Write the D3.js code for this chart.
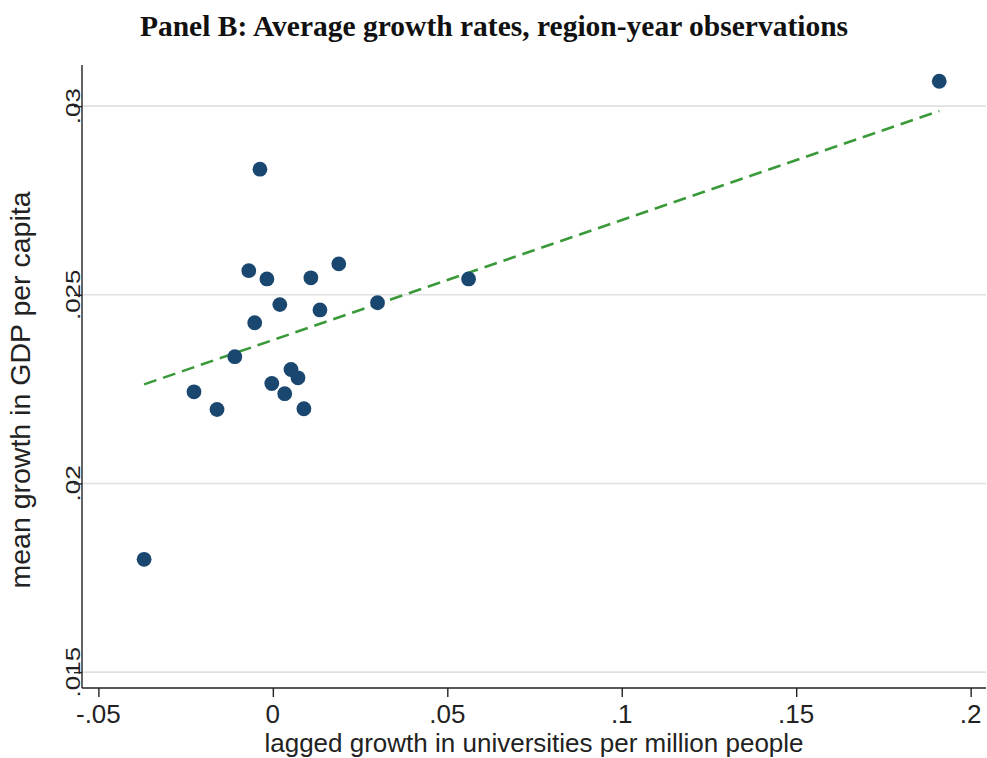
<!DOCTYPE html>
<html>
<head>
<meta charset="utf-8">
<script src="https://cdn.jsdelivr.net/npm/d3@7/dist/d3.min.js"></script>
<style>
  html, body { margin: 0; padding: 0; background: #fff; }
  svg { display: block; }
</style>
</head>
<body>
<svg id="chart" width="987" height="758"></svg>
<script>
// Binned region-year observations
const universityGrowth = [0.191, -0.0369, -0.0037, -0.0069, -0.0017, 0.0189, 0.0109, 0.0020, 0.0135, -0.0052,
                          0.0300, 0.0561, -0.0109, -0.0226, -0.0160, -0.0003, 0.0034, 0.0052, 0.0072, 0.0089];
const gdpGrowth = [0.03066, 0.01799, 0.02833, 0.02564, 0.02542, 0.02582, 0.02545, 0.02474, 0.02460, 0.02426,
                   0.02479, 0.02542, 0.02336, 0.02243, 0.02196, 0.02265, 0.02238, 0.02302, 0.02280, 0.02198];
// Linear fit line
const fitIntercept = 0.0238;
const fitSlope = 0.0318;
const fitRange = [-0.0369, 0.191];

const xTicks = [-0.05, 0, 0.05, 0.1, 0.15, 0.2];
const xTickLabels = ["-.05", "0", ".05", ".1", ".15", ".2"];
const yTicks = [0.015, 0.02, 0.025, 0.03];
const yTickLabels = [".015", ".02", ".025", ".03"];

const svg = d3.select("#chart");
const plotLeft = 82, plotRight = 986, plotTop = 65, plotBottom = 688;
const sans = "'Liberation Sans', Arial, sans-serif";

const x = d3.scaleLinear().domain([-0.0547, 0.2044]).range([plotLeft, plotRight]);
const y = d3.scaleLinear().domain([0.01458, 0.03109]).range([plotBottom, plotTop]);

// Title
svg.append("text")
  .attr("x", 494).attr("y", 36)
  .attr("text-anchor", "middle")
  .attr("font-family", "'Liberation Serif', 'Times New Roman', serif")
  .attr("font-weight", "bold")
  .attr("font-size", 29.5)
  .attr("fill", "#111")
  .text("Panel B: Average growth rates, region-year observations");

// Gridlines
svg.append("g").selectAll("line").data(yTicks).join("line")
  .attr("x1", plotLeft).attr("x2", plotRight)
  .attr("y1", d => y(d)).attr("y2", d => y(d))
  .attr("stroke", "#e0e0e0").attr("stroke-width", 1.6);

// Y axis
const yAxis = d3.axisLeft(y).tickValues(yTicks).tickSize(8).tickFormat("");
const gy = svg.append("g").attr("transform", `translate(${plotLeft},0)`).call(yAxis);
gy.select(".domain").attr("d", `M0,${plotTop}V${plotBottom}`);
gy.selectAll("line, path").attr("stroke", "#222").attr("stroke-width", 1.4);
svg.append("g").selectAll("text").data(yTicks).join("text")
  .attr("transform", (d) => `translate(${plotLeft - 2},${y(d)}) rotate(-90) scale(1,0.78)`)
  .attr("text-anchor", "middle")
  .attr("font-family", sans)
  .attr("font-size", 26)
  .attr("fill", "#222")
  .text((d, i) => yTickLabels[i]);

// X axis
const xAxis = d3.axisBottom(x).tickValues(xTicks).tickSize(9).tickFormat("");
const gx = svg.append("g").attr("transform", `translate(0,${plotBottom})`).call(xAxis);
gx.select(".domain").attr("d", `M${plotLeft},0H${plotRight}`);
gx.selectAll("line, path").attr("stroke", "#222").attr("stroke-width", 1.4);
svg.append("g").selectAll("text").data(xTicks).join("text")
  .attr("x", d => x(d)).attr("y", 723)
  .attr("text-anchor", "middle")
  .attr("font-family", sans)
  .attr("font-size", 26)
  .attr("fill", "#222")
  .text((d, i) => xTickLabels[i]);

// Axis titles
svg.append("text")
  .attr("x", 534).attr("y", 752)
  .attr("text-anchor", "middle")
  .attr("font-family", sans)
  .attr("font-size", 26)
  .attr("fill", "#222")
  .text("lagged growth in universities per million people");

svg.append("text")
  .attr("transform", `translate(30,390) rotate(-90)`)
  .attr("text-anchor", "middle")
  .attr("font-family", sans)
  .attr("font-size", 28.5)
  .attr("fill", "#222")
  .text("mean growth in GDP per capita");

// Fit line
svg.append("line")
  .attr("x1", x(fitRange[0])).attr("y1", y(fitIntercept + fitSlope * fitRange[0]))
  .attr("x2", x(fitRange[1])).attr("y2", y(fitIntercept + fitSlope * fitRange[1]))
  .attr("stroke", "#3a9a3a").attr("stroke-width", 2.6)
  .attr("stroke-dasharray", "13,7");

// Points
const pts = universityGrowth.map((v, i) => ({ xv: v, yv: gdpGrowth[i] }));
svg.append("g").selectAll("circle").data(pts).join("circle")
  .attr("cx", d => x(d.xv)).attr("cy", d => y(d.yv))
  .attr("r", 7.4)
  .attr("fill", "#1a476f");
</script>
</body>
</html>
